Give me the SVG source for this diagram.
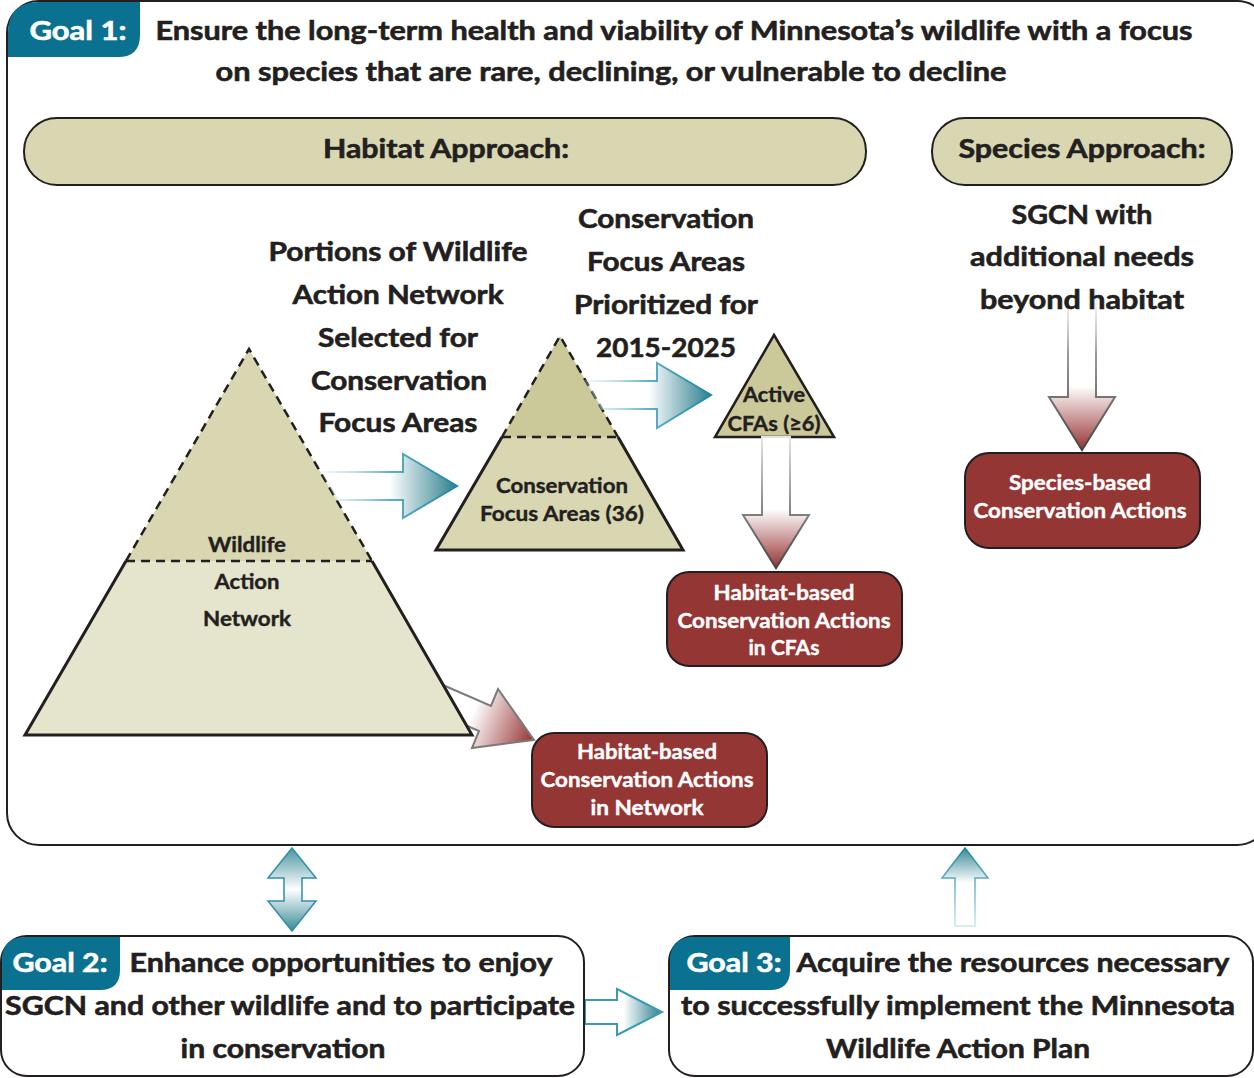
<svg xmlns="http://www.w3.org/2000/svg" width="1254" height="1078" viewBox="0 0 1254 1078">
<defs>
<style>
.t{font-family:Lato,"Open Sans","Liberation Sans",sans-serif;font-weight:700;fill:#231f20;stroke:#231f20;stroke-width:0.6;text-anchor:middle}
.big{font-size:27px}
.sm{font-size:20px;stroke-width:0.4}
.w{fill:#ffffff;stroke:#ffffff}
.goal{fill:#fff;stroke:#231f20;stroke-width:2}
.tab{fill:#0b7190}
.pill{fill:#d9d7b1;stroke:#231f20;stroke-width:2}
.red{fill:#943634;stroke:#231f20;stroke-width:2}
.dash{stroke:#231f20;stroke-width:2.5;stroke-dasharray:9 6;fill:none}
.solid{stroke:#231f20;stroke-width:3;fill:none;stroke-linejoin:miter}
.tarr{fill:url(#tealH);stroke:url(#tealHs);stroke-width:2}
.rarr{fill:url(#redV);stroke:url(#redVs);stroke-width:2}
</style>
<linearGradient id="tealH" x1="0" y1="0" x2="1" y2="0">
<stop offset="0" stop-color="#fff" stop-opacity="0"/>
<stop offset="0.5" stop-color="#fff"/>
<stop offset="1" stop-color="#2b7f8c"/>
</linearGradient>
<linearGradient id="tealHs" x1="0" y1="0" x2="1" y2="0">
<stop offset="0" stop-color="#cfe6ec" stop-opacity="0.3"/>
<stop offset="0.5" stop-color="#5fb0c4"/>
<stop offset="1" stop-color="#1d86a0"/>
</linearGradient>
<linearGradient id="tealUp" x1="0" y1="1" x2="0" y2="0">
<stop offset="0" stop-color="#fff"/>
<stop offset="0.55" stop-color="#fff"/>
<stop offset="1" stop-color="#3a8a96"/>
</linearGradient>
<linearGradient id="tealUps" x1="0" y1="1" x2="0" y2="0">
<stop offset="0" stop-color="#cfe6ec"/>
<stop offset="0.5" stop-color="#6bb6c8"/>
<stop offset="1" stop-color="#1d86a0"/>
</linearGradient>
<linearGradient id="tealBoth" x1="0" y1="0" x2="0" y2="1">
<stop offset="0" stop-color="#4a96a0"/>
<stop offset="0.5" stop-color="#fff"/>
<stop offset="1" stop-color="#3a8a96"/>
</linearGradient>
<linearGradient id="redV" x1="0" y1="0" x2="0" y2="1">
<stop offset="0" stop-color="#fff"/>
<stop offset="0.55" stop-color="#fff"/>
<stop offset="1" stop-color="#973232"/>
</linearGradient>
<linearGradient id="redVs" x1="0" y1="0" x2="0" y2="1">
<stop offset="0" stop-color="#e6e6e6"/>
<stop offset="0.6" stop-color="#7d7d7d"/>
<stop offset="1" stop-color="#444"/>
</linearGradient>
<linearGradient id="redSp" x1="0" y1="0" x2="0" y2="1">
<stop offset="0" stop-color="#fff" stop-opacity="0"/>
<stop offset="0.2" stop-color="#fff"/>
<stop offset="0.6" stop-color="#fff"/>
<stop offset="1" stop-color="#973232"/>
</linearGradient>
<linearGradient id="redSps" x1="0" y1="0" x2="0" y2="1">
<stop offset="0" stop-color="#eeeeee" stop-opacity="0.3"/>
<stop offset="0.4" stop-color="#9a9a9a"/>
<stop offset="1" stop-color="#444"/>
</linearGradient>
<linearGradient id="redD" gradientUnits="userSpaceOnUse" x1="445" y1="705" x2="534" y2="740">
<stop offset="0" stop-color="#fff"/>
<stop offset="0.3" stop-color="#fff"/>
<stop offset="1" stop-color="#973232"/>
</linearGradient>
</defs>

<g id="goal1">
<rect class="goal" x="7" y="1" width="1262" height="844" rx="32"/>
<path class="tab" d="M8,57 V33 Q8,2 39,2 H140 V35 Q140,57 118,57 Z"/>
<text class="t big w" x="78" y="40" textLength="97" lengthAdjust="spacingAndGlyphs">Goal 1:</text>
<text class="t big" x="674" y="40" textLength="1037" lengthAdjust="spacingAndGlyphs">Ensure the long-term health and viability of Minnesota’s wildlife with a focus</text>
<text class="t big" x="611" y="81" textLength="791" lengthAdjust="spacingAndGlyphs">on species that are rare, declining, or vulnerable to decline</text>
</g>

<g id="habitat-approach">
<rect class="pill" x="24" y="118" width="842" height="67" rx="33"/>
<text class="t big" x="446" y="158" textLength="246" lengthAdjust="spacingAndGlyphs">Habitat Approach:</text>
</g>

<g id="species-approach">
<rect class="pill" x="932" y="118" width="300" height="67" rx="33"/>
<text class="t big" x="1082" y="158" textLength="247" lengthAdjust="spacingAndGlyphs">Species Approach:</text>
</g>

<g id="label-portions">
<text class="t big" x="398" y="261" textLength="259" lengthAdjust="spacingAndGlyphs">Portions of Wildlife</text>
<text class="t big" x="398" y="304" textLength="211" lengthAdjust="spacingAndGlyphs">Action Network</text>
<text class="t big" x="398" y="347" textLength="160" lengthAdjust="spacingAndGlyphs">Selected for</text>
<text class="t big" x="399" y="390" textLength="176" lengthAdjust="spacingAndGlyphs">Conservation</text>
<text class="t big" x="398" y="432" textLength="159" lengthAdjust="spacingAndGlyphs">Focus Areas</text>
</g>

<g id="label-prioritized">
<text class="t big" x="666" y="228" textLength="176" lengthAdjust="spacingAndGlyphs">Conservation</text>
<text class="t big" x="666" y="271" textLength="158" lengthAdjust="spacingAndGlyphs">Focus Areas</text>
<text class="t big" x="666" y="314" textLength="184" lengthAdjust="spacingAndGlyphs">Prioritized for</text>
<text class="t big" x="666" y="357" textLength="140" lengthAdjust="spacingAndGlyphs">2015-2025</text>
</g>

<g id="connectors">
<polygon points="436,682 491,706 498,689 534,740 472,748 479,731 424,707" style="fill:url(#redD);stroke:#7a7a7a;stroke-width:2"/>
<polygon points="1068,290 1096,290 1096,397 1115,397 1082,450 1049,397 1068,397" style="fill:url(#redSp);stroke:url(#redSps);stroke-width:2"/>
</g>

<g id="label-sgcn">
<text class="t big" x="1082" y="224" textLength="141" lengthAdjust="spacingAndGlyphs">SGCN with</text>
<text class="t big" x="1082" y="266" textLength="224" lengthAdjust="spacingAndGlyphs">additional needs</text>
<text class="t big" x="1082" y="309" textLength="204" lengthAdjust="spacingAndGlyphs">beyond habitat</text>
</g>

<g id="wildlife-action-network">
<polygon points="126,561 372,561 472,735 25,735" fill="#e5e5cd"/>
<polygon points="249,349 372,561 126,561" fill="#d9d7b1"/>
<polyline class="solid" points="126,561 25,735 472,735 372,561"/>
<polyline class="dash" points="126,561 249,349 372,561"/>
<line class="dash" x1="126" y1="561" x2="372" y2="561"/>
<text class="t sm" x="247" y="552" textLength="78" lengthAdjust="spacingAndGlyphs">Wildlife</text>
<text class="t sm" x="247" y="589" textLength="65" lengthAdjust="spacingAndGlyphs">Action</text>
<text class="t sm" x="247" y="626" textLength="88" lengthAdjust="spacingAndGlyphs">Network</text>
</g>

<g id="cfa-36">
<polygon points="502,437 618,437 683,550 436,550" fill="#d9d7b1"/>
<polygon points="560,336 618,437 502,437" fill="#cbc99a"/>
<polyline class="solid" points="502,437 436,550 683,550 618,437"/>
<polyline class="dash" points="502,437 560,336 618,437"/>
<line class="dash" x1="502" y1="437" x2="618" y2="437"/>
<text class="t sm" x="562" y="493" textLength="132" lengthAdjust="spacingAndGlyphs">Conservation</text>
<text class="t sm" x="562" y="521" textLength="164" lengthAdjust="spacingAndGlyphs">Focus Areas (36)</text>
</g>

<g id="active-cfas">
<polygon points="774,335 834,437 715,437" fill="#cbc99a" stroke="#231f20" stroke-width="2.5" stroke-linejoin="miter"/>
<text class="t sm" x="774" y="402" textLength="62" lengthAdjust="spacingAndGlyphs">Active</text>
<text class="t sm" x="774" y="431" textLength="93" lengthAdjust="spacingAndGlyphs">CFAs (≥6)</text>
</g>

<g id="connectors2">
<polygon class="tarr" points="322,472 403,472 403,454 457,486 403,518 403,500 338,500"/>
<polygon class="tarr" points="586,381 657,381 657,363 711,395 657,428 657,409 602,409"/>
<polygon class="rarr" points="762,437 790,437 790,515 809,515 776,568 743,515 762,515"/>
<polygon points="292,848 316,878 302,878 302,901 316,901 292,931 268,901 284,901 284,878 268,878" fill="url(#tealBoth)" stroke="#2f8fa6" stroke-width="1.5"/>
<polygon points="965,848 988,878 975,878 975,926 955,926 955,878 942,878" fill="url(#tealUp)" stroke="url(#tealUps)" stroke-width="1.5"/>
<polygon points="585,1000 617,1000 617,989 662,1012 617,1035 617,1024 585,1024" style="fill:url(#tealH);stroke:#3a9bb3;stroke-width:2"/>
</g>

<g id="habitat-actions-cfas">
<rect class="red" x="667" y="572" width="235" height="94" rx="22"/>
<text class="t sm w" x="784" y="600" textLength="141" lengthAdjust="spacingAndGlyphs">Habitat-based</text>
<text class="t sm w" x="784" y="628" textLength="213" lengthAdjust="spacingAndGlyphs">Conservation Actions</text>
<text class="t sm w" x="784" y="655" textLength="71" lengthAdjust="spacingAndGlyphs">in CFAs</text>
</g>

<g id="habitat-actions-network">
<rect class="red" x="532" y="733" width="235" height="94" rx="22"/>
<text class="t sm w" x="647" y="759" textLength="140" lengthAdjust="spacingAndGlyphs">Habitat-based</text>
<text class="t sm w" x="647" y="787" textLength="213" lengthAdjust="spacingAndGlyphs">Conservation Actions</text>
<text class="t sm w" x="647" y="815" textLength="113" lengthAdjust="spacingAndGlyphs">in Network</text>
</g>

<g id="species-actions">
<rect class="red" x="965" y="453" width="235" height="95" rx="24"/>
<text class="t sm w" x="1080" y="490" textLength="142" lengthAdjust="spacingAndGlyphs">Species-based</text>
<text class="t sm w" x="1080" y="518" textLength="213" lengthAdjust="spacingAndGlyphs">Conservation Actions</text>
</g>

<g id="goal2">
<rect class="goal" x="1" y="936" width="583" height="140" rx="26"/>
<path class="tab" d="M2,990 V960 Q2,937 26,937 H120 V970 Q120,990 100,990 Z"/>
<text class="t big w" x="60" y="972" textLength="95" lengthAdjust="spacingAndGlyphs">Goal 2:</text>
<text class="t big" x="341" y="972" textLength="423" lengthAdjust="spacingAndGlyphs">Enhance opportunities to enjoy</text>
<text class="t big" x="290" y="1015" textLength="570" lengthAdjust="spacingAndGlyphs">SGCN and other wildlife and to participate</text>
<text class="t big" x="283" y="1058" textLength="205" lengthAdjust="spacingAndGlyphs">in conservation</text>
</g>

<g id="goal3">
<rect class="goal" x="669" y="936" width="584" height="140" rx="26"/>
<path class="tab" d="M670,990 V960 Q670,937 694,937 H790 V970 Q790,990 770,990 Z"/>
<text class="t big w" x="734" y="972" textLength="95" lengthAdjust="spacingAndGlyphs">Goal 3:</text>
<text class="t big" x="1013" y="972" textLength="433" lengthAdjust="spacingAndGlyphs">Acquire the resources necessary</text>
<text class="t big" x="958" y="1015" textLength="554" lengthAdjust="spacingAndGlyphs">to successfully implement the Minnesota</text>
<text class="t big" x="958" y="1058" textLength="264" lengthAdjust="spacingAndGlyphs">Wildlife Action Plan</text>
</g>
</svg>
